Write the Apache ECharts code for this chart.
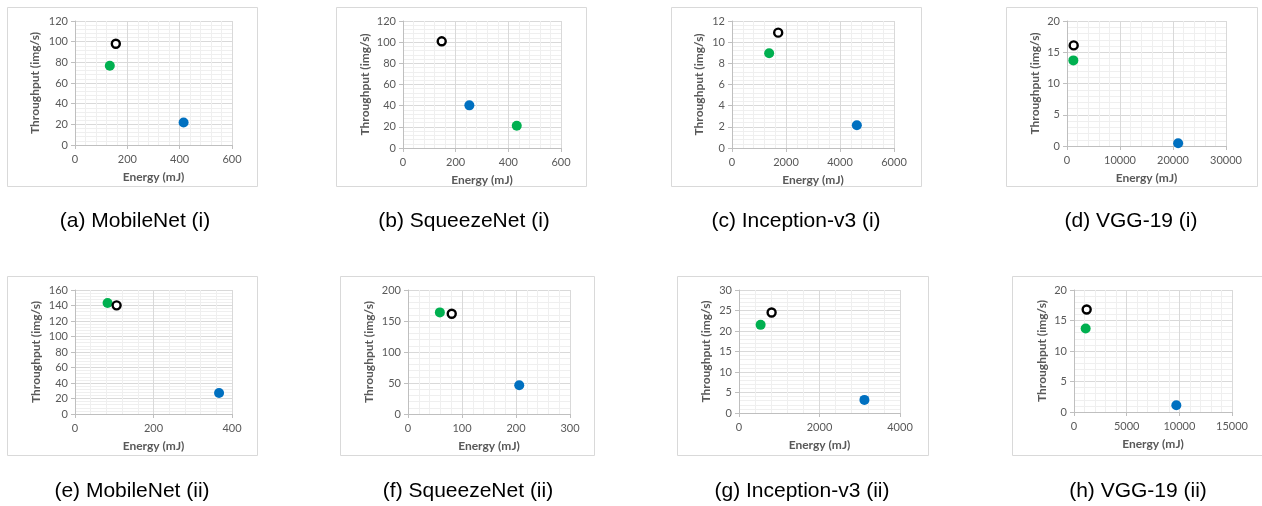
<!DOCTYPE html>
<html>
<head>
<meta charset="utf-8">
<script src="https://cdn.jsdelivr.net/npm/echarts@6/dist/echarts.min.js"></script>
<style>
  html, body { margin: 0; padding: 0; background: #fff; }
  #main { width: 1262px; height: 506px; }
</style>
</head>
<body>
<div id="main"></div>
<script>
// captions under each small chart
var panelNames = ['(a) MobileNet (i)', '(b) SqueezeNet (i)', '(c) Inception-v3 (i)', '(d) VGG-19 (i)',
                  '(e) MobileNet (ii)', '(f) SqueezeNet (ii)', '(g) Inception-v3 (ii)', '(h) VGG-19 (ii)'];

// axis ranges / tick steps
var xMax  = [600, 600, 6000, 30000, 400, 300, 4000, 15000];
var xStep = [200, 200, 2000, 10000, 200, 100, 2000, 5000];
var yMax  = [120, 120, 12, 20, 160, 200, 30, 20];
var yStep = [20, 20, 2, 5, 20, 50, 5, 5];

// points: energy (mJ) and throughput (img/s)
var blueEnergy      = [415, 252, 4624, 20970, 367, 206, 3116, 9715];
var blueThroughput  = [21.8, 40.3, 2.15, 0.45, 27.2, 46.4, 3.2, 1.1];
var greenEnergy     = [133, 432, 1376, 1200, 83, 59, 537, 1108];
var greenThroughput = [76.7, 21.1, 8.95, 13.7, 143.2, 163.9, 21.5, 13.7];
var blackEnergy     = [156, 147, 1711, 1263, 106, 81, 810, 1203];
var blackThroughput = [98, 100.8, 10.9, 16.1, 140.2, 161.7, 24.5, 16.8];

// layout of each panel: plot area, outer frame, caption centre
var plots = [
    [75, 21, 157, 124], [403, 21, 158, 127], [732, 21, 162, 127], [1067, 21, 159, 125],
    [75, 290, 157, 124], [408, 290, 162, 124], [739, 290, 161, 123], [1074, 290, 158, 122]
];
var frames = [
    [7, 7, 250, 179], [336, 7, 250, 179], [671, 7, 250, 179], [1006, 7, 251, 179],
    [7, 276, 250, 179], [340, 276, 254, 179], [677, 276, 251, 179], [1012, 276, 260, 179]
];
var yNameGap = [34, 32, 27, 26, 33, 33, 27, 26];
var captionX = [135, 464, 796, 1131, 132, 468, 802, 1138];
var captionY = [210, 210, 210, 210, 480, 480, 480, 480];

var gray = '#595959';
var labelFont = 'Lato, "Open Sans", sans-serif';

var chart = echarts.init(document.getElementById('main'));

var grids = [], xAxes = [], yAxes = [], series = [], titles = [], graphics = [];

function axisCommon() {
    return {
        min: 0,
        axisLine: { show: true, lineStyle: { color: '#bfbfbf', width: 1 } },
        axisTick: { show: true, length: 4, lineStyle: { color: '#bfbfbf' } },
        axisLabel: {
            color: gray, fontSize: 11, fontFamily: labelFont,
            formatter: function (v) { return String(v); }
        },
        splitLine: { show: true, lineStyle: { color: '#d9d9d9', width: 1 } },
        minorTick: { show: false, splitNumber: 5 },
        minorSplitLine: { show: true, lineStyle: { color: '#efefef', width: 1 } },
        nameLocation: 'middle',
        nameTextStyle: { color: gray, fontSize: 12, fontWeight: 'bold', fontFamily: labelFont }
    };
}

for (var i = 0; i < 8; i++) {
    var p = plots[i];
    grids.push({ left: p[0], top: p[1], width: p[2], height: p[3], containLabel: false });

    var xa = axisCommon();
    xa.type = 'value';
    xa.gridIndex = i;
    xa.max = xMax[i];
    xa.interval = xStep[i];
    xa.name = 'Energy (mJ)';
    xa.nameGap = 26;
    xa.axisLabel.margin = 9;
    xAxes.push(xa);

    var ya = axisCommon();
    ya.type = 'value';
    ya.gridIndex = i;
    ya.max = yMax[i];
    ya.interval = yStep[i];
    ya.name = 'Throughput (img/s)';
    ya.nameGap = yNameGap[i];
    ya.axisLabel.margin = 7;
    yAxes.push(ya);

    series.push({
        type: 'scatter', xAxisIndex: i, yAxisIndex: i,
        symbol: 'circle', symbolSize: 10,
        itemStyle: { color: '#0070c0', opacity: 1 },
        data: [[blueEnergy[i], blueThroughput[i]]]
    });
    series.push({
        type: 'scatter', xAxisIndex: i, yAxisIndex: i,
        symbol: 'circle', symbolSize: 10,
        itemStyle: { color: '#00b050', opacity: 1 },
        data: [[greenEnergy[i], greenThroughput[i]]]
    });
    series.push({
        type: 'scatter', xAxisIndex: i, yAxisIndex: i,
        symbol: 'circle', symbolSize: 8,
        itemStyle: { color: '#ffffff', borderColor: '#000000', borderWidth: 2.4, opacity: 1 },
        data: [[blackEnergy[i], blackThroughput[i]]]
    });

    titles.push({
        text: panelNames[i],
        left: captionX[i], top: captionY[i],
        textAlign: 'center',
        padding: 0,
        textStyle: { color: '#000', fontSize: 21, fontWeight: 'normal', fontFamily: '"Liberation Sans", Arial, sans-serif', lineHeight: 22 }
    });

    var f = frames[i];
    graphics.push({
        type: 'rect', z: -10, silent: true,
        shape: { x: f[0] + 0.5, y: f[1] + 0.5, width: f[2], height: f[3] },
        style: { fill: 'transparent', stroke: '#d9d9d9', lineWidth: 1 }
    });
}

chart.setOption({
    animation: false,
    backgroundColor: '#fff',
    title: titles,
    grid: grids,
    xAxis: xAxes,
    yAxis: yAxes,
    series: series,
    graphic: graphics
});
</script>
</body>
</html>
